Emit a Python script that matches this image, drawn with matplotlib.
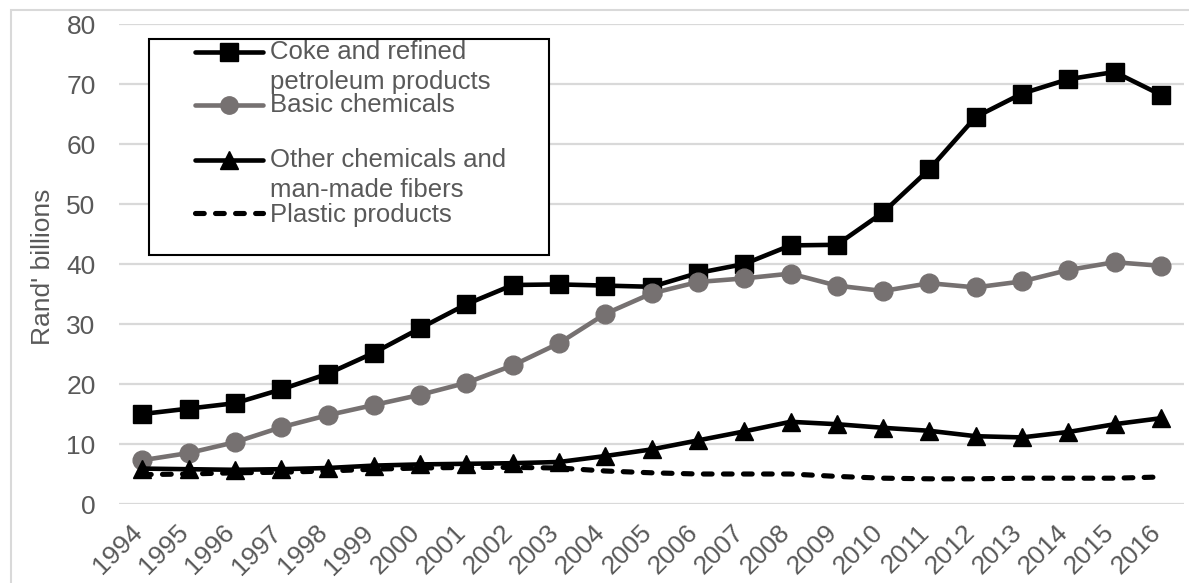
import matplotlib
matplotlib.use("Agg")
import matplotlib.pyplot as plt
from matplotlib.lines import Line2D
from matplotlib.patches import Rectangle
from matplotlib.transforms import ScaledTranslation

# Sales by sub-sector, Rand billions
years = [str(y) for y in range(1994, 2017)]
coke_petroleum = [15.0, 15.9, 16.8, 19.1, 21.7, 25.2, 29.3, 33.3, 36.5, 36.6, 36.4, 36.2,
                  38.5, 40.0, 43.1, 43.2, 48.6, 55.8, 64.5, 68.4, 70.8, 72.0, 68.2]
basic_chemicals = [7.3, 8.5, 10.3, 12.8, 14.8, 16.5, 18.2, 20.2, 23.1, 26.8, 31.7, 35.1,
                   37.0, 37.6, 38.4, 36.4, 35.5, 36.8, 36.1, 37.1, 39.0, 40.3, 39.7]
other_chemicals = [5.9, 5.8, 5.7, 5.8, 6.0, 6.4, 6.6, 6.7, 6.8, 7.0, 8.0, 9.1,
                   10.6, 12.1, 13.7, 13.3, 12.7, 12.2, 11.3, 11.1, 12.0, 13.3, 14.3]
plastic_products = [4.9, 5.0, 5.2, 5.3, 5.5, 5.8, 6.0, 6.1, 6.1, 6.0, 5.5, 5.2,
                    5.0, 5.0, 5.0, 4.6, 4.3, 4.2, 4.2, 4.3, 4.3, 4.3, 4.5]
labels = ["Coke and refined\npetroleum products", "Basic chemicals",
          "Other chemicals and\nman-made fibers", "Plastic products"]
yticks = [0, 10, 20, 30, 40, 50, 60, 70, 80]

plt.rcParams["font.family"] = ["Liberation Sans", "DejaVu Sans"]

W, H = 1189, 583
DPI = 100
fig = plt.figure(figsize=(W / DPI, H / DPI), dpi=DPI)

def fx(x):
    return x / W

def fy(y):
    return 1 - y / H

ax = fig.add_axes([fx(119.3), fy(504), fx(1184) - fx(119.3), fy(24) - fy(504)])

TEXT = "#595959"
GRID = "#D9D9D9"
GRAY = "#767171"
x = list(range(len(years)))

dash = (0, (1.7, 2.2))
styles = [
    dict(color="black", lw=3.3, marker="s", ms=13.5),
    dict(color=GRAY, lw=3.3, marker="o", ms=13.5),
    dict(color="black", lw=3.3, marker="^", ms=13.5),
    dict(color="black", lw=3.7, ls=dash, dash_capstyle="round"),
]
series = [coke_petroleum, basic_chemicals, other_chemicals, plastic_products]
for vals, st in zip(series, styles):
    ax.plot(x, vals, solid_joinstyle="round", **st)

ax.set_xlim(-0.5, len(years) - 0.5)
ax.set_ylim(0, 80)
ax.set_yticks(yticks)
ax.set_yticklabels([str(v) for v in yticks])
ax.set_xticks(x)
ax.set_xticklabels(years, rotation=45, ha="right", va="center", rotation_mode="anchor")
ax.tick_params(axis="y", length=0, pad=17, labelsize=19, labelcolor=TEXT)
ax.tick_params(axis="x", length=0, pad=18, labelsize=19, labelcolor=TEXT)
shift = ScaledTranslation(-4 / DPI, 0, fig.dpi_scale_trans)
for lbl in ax.get_xticklabels():
    lbl.set_transform(lbl.get_transform() + shift)
ax.yaxis.grid(True, color=GRID, lw=1.6)
ax.set_axisbelow(True)
for s in ax.spines.values():
    s.set_visible(False)
fig.text(fx(43.3), fy(266.7), "Rand' billions", rotation=90, ha="center", va="center",
         fontsize=19, color=TEXT)

# outer chart frame
fig.patches.append(Rectangle((fx(10.5), fy(H + 20)), fx(W + 20), fy(9.5) - fy(H + 20),
                             transform=fig.transFigure, fill=False,
                             edgecolor=GRID, lw=1.5))

# legend box and entries
fig.patches.append(Rectangle((fx(149.3), fy(255)), fx(549) - fx(149.3), fy(39.3) - fy(255),
                             transform=fig.transFigure, facecolor="white",
                             edgecolor="black", lw=1.5, zorder=5))
entry_y = [52.3, 105.0, 160.0, 212.7]
text_base = [59.3, 111.7, 167.3, 221.7]
leg_styles = [
    dict(color="black", lw=3.3, marker="s", ms=12.5),
    dict(color=GRAY, lw=3.3, marker="o", ms=12.5),
    dict(color="black", lw=3.3, marker="^", ms=12.5),
    dict(color="black", lw=3.7, ls=dash, dash_capstyle="round"),
]
for ly, tb, lab, st in zip(entry_y, text_base, labels, leg_styles):
    xs = [fx(195), fx(229), fx(263)]
    fig.add_artist(Line2D(xs, [fy(ly)] * 3, transform=fig.transFigure,
                          markevery=[1] if "marker" in st else None,
                          solid_capstyle="round", zorder=6, **st))
    for i, ln in enumerate(lab.split("\n")):
        fig.text(fx(270.5), fy(tb + 30 * i), ln, fontsize=18.5, color=TEXT,
                 ha="left", va="baseline", zorder=7)

fig.savefig("out.png", dpi=DPI)
